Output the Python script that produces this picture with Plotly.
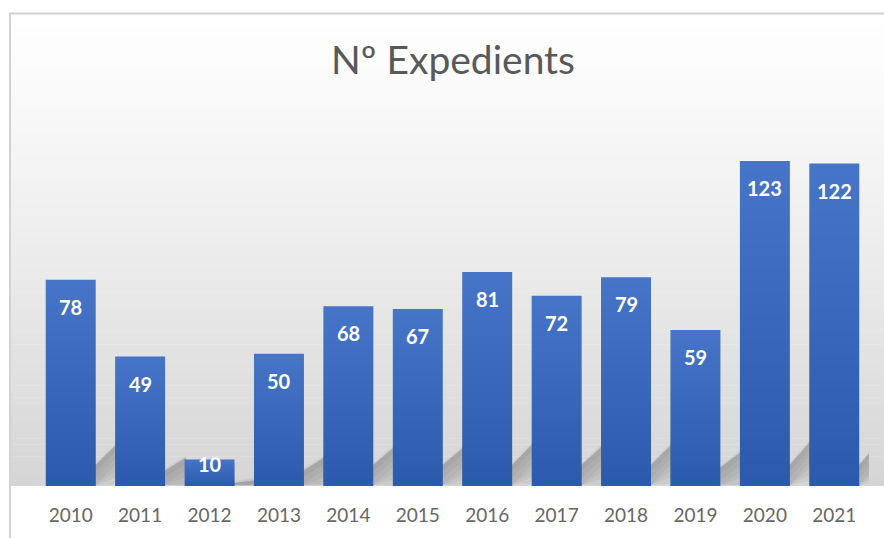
import plotly.graph_objects as go

# Expedients per year
years = ["2010", "2011", "2012", "2013", "2014", "2015",
         "2016", "2017", "2018", "2019", "2020", "2021"]
expedients = [78, 49, 10, 50, 68, 67, 81, 72, 79, 59, 123, 122]

W, H = 884, 538
ML, MR, MT, MB = 36, 15, 116, 50
YMAX = 140
plot_w = W - ML - MR
plot_h = H - MT - MB
px_per_unit = plot_h / YMAX
px_per_cat = plot_w / len(years)

idx = list(range(len(years)))
BAR_W = 0.72
GAP = 1 - BAR_W


def px_to_paper_x(px):
    return (px - ML) / plot_w


def px_to_paper_y(py):
    return (H - MB - py) / plot_h


shapes = []

# chart-area background: white fading to grey towards the floor
top_px, floor_px = 14, H - MB
n_bands = 80
for k in range(n_bands):
    y0 = top_px + (floor_px - top_px) * k / n_bands
    y1 = top_px + (floor_px - top_px) * (k + 1) / n_bands
    t = (k + 0.5) / n_bands
    g = int(round(255 - 42 * t ** 1.15))
    shapes.append(dict(type="rect", xref="paper", yref="paper", layer="below",
                       x0=px_to_paper_x(10), x1=px_to_paper_x(W + 2),
                       y0=px_to_paper_y(y1), y1=px_to_paper_y(y0) + 0.001,
                       fillcolor=f"rgb({g},{g},{g})", line=dict(width=0)))

# frame of the chart area
shapes.append(dict(type="path", xref="paper", yref="paper", layer="above",
                   path=(f"M {px_to_paper_x(10)} {px_to_paper_y(H + 5)} "
                         f"L {px_to_paper_x(10)} {px_to_paper_y(13)} "
                         f"L {px_to_paper_x(W + 5)} {px_to_paper_y(13)}"),
                   line=dict(color="#d2d2d2", width=2)))

# perspective shadows on the floor: a slanted band in the gap right of each bar,
# darkest just under its upper edge and fading downward
for i, v in zip(idx, expedients):
    a = min(0.12 * v, 8)          # edge height at the bar's right side
    b = min(0.10 * v, 9)          # extra rise across the gap
    x_l = i
    x_r = i + BAR_W / 2
    x_e = x_r + GAP + 0.02
    for k in range(6):
        depth = 2.5 + 2.5 * k
        up = 0.8 if k == 0 else 0
        lo_l = max(a - depth, 0.3)
        lo_r = max(a + b - depth, 0.3)
        path = (f"M {x_l} {lo_l} L {x_r} {lo_l} L {x_e} {lo_r} "
                f"L {x_e} {a + b + up} L {x_r} {a + up} L {x_l} {a + up} Z")
        shapes.append(dict(type="path", xref="x", yref="y", layer="below",
                           path=path, fillcolor="rgba(80,80,80,0.07)",
                           line=dict(width=0)))

fig = go.Figure()

# main bars
fig.add_trace(go.Bar(x=idx, y=expedients, width=BAR_W,
                     marker=dict(color="#4674c6", line=dict(width=0)),
                     hoverinfo="x+y", showlegend=False))

# fine darkening overlays give each bar a smooth top-to-bottom gradient
n_grad = 26
for k in range(1, n_grad + 1):
    frac = 1 - k / (n_grad + 1)
    fig.add_trace(go.Bar(x=idx, y=[v * frac for v in expedients], width=BAR_W,
                         marker=dict(color="rgba(20,40,100,0.009)", line=dict(width=0)),
                         hoverinfo="skip", showlegend=False))

# value labels inside the top of each bar
annotations = []
for i, v in zip(idx, expedients):
    bar_px = v * px_per_unit
    shift = min(27, bar_px - 22)
    annotations.append(dict(x=i, y=v, xref="x", yref="y", text=str(v),
                            showarrow=False, yanchor="middle", yshift=-shift,
                            font=dict(family="Lato", size=20, color="white",
                                      weight="bold")))

fig.update_layout(
    width=W, height=H,
    margin=dict(l=ML, r=MR, t=MT, b=MB),
    paper_bgcolor="white",
    plot_bgcolor="rgba(0,0,0,0)",
    barmode="overlay",
    shapes=shapes,
    annotations=annotations,
    title=dict(text="Nº Expedients", x=0.5006, xanchor="center", y=0.888,
               yanchor="middle", xref="paper", yref="container",
               font=dict(family="Lato", size=39, color="#595959")),
    xaxis=dict(range=[-0.5, len(years) - 0.5], tickmode="array",
               tickvals=idx, ticktext=years, showgrid=False, zeroline=False,
               showline=False, ticks="outside", ticklen=12,
               tickcolor="rgba(0,0,0,0)",
               tickfont=dict(family="Lato", size=19, color="#666666")),
    yaxis=dict(range=[0, YMAX], visible=False, fixedrange=True),
    font=dict(family="Lato"),
)

fig.write_html("out.html")
